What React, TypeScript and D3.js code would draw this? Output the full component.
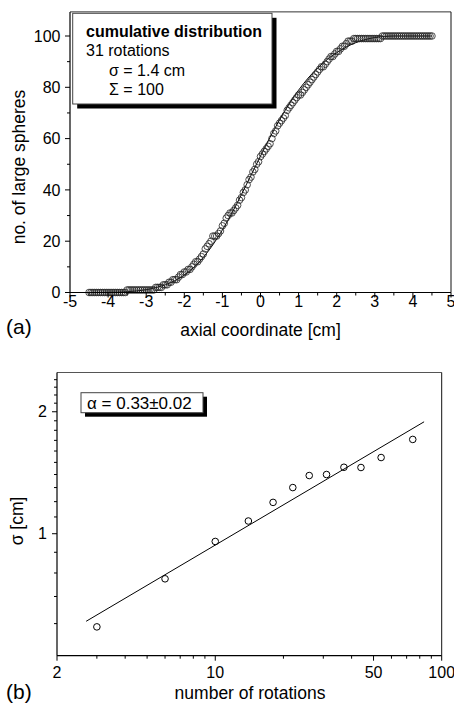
import React, { useEffect, useRef } from 'react';
import * as d3 from 'd3';

// ---------- Panel (a): cumulative distribution ----------
const cumX: number[] = [
  -4.5, -4.45, -4.4, -4.35, -4.3, -4.25, -4.2, -4.15, -4.1, -4.05,
  -4.0, -3.95, -3.9, -3.85, -3.8, -3.75, -3.7, -3.65, -3.6, -3.55,
  -3.5, -3.45, -3.4, -3.35, -3.3, -3.25, -3.2, -3.15, -3.1, -3.05,
  -3.0, -2.95, -2.9, -2.85, -2.8, -2.75, -2.7, -2.65, -2.6, -2.55,
  -2.5, -2.45, -2.4, -2.35, -2.3, -2.25, -2.2, -2.15, -2.1, -2.05,
  -2.0, -1.95, -1.9, -1.85, -1.8, -1.75, -1.7, -1.65, -1.6, -1.55,
  -1.5, -1.45, -1.4, -1.35, -1.3, -1.25, -1.2, -1.15, -1.1, -1.05,
  -1.0, -0.95, -0.9, -0.85, -0.8, -0.75, -0.7, -0.65, -0.6, -0.55,
  -0.5, -0.45, -0.4, -0.35, -0.3, -0.25, -0.2, -0.15, -0.1, -0.05,
  0.0, 0.05, 0.1, 0.15, 0.2, 0.25, 0.3, 0.35, 0.4, 0.45,
  0.5, 0.55, 0.6, 0.65, 0.7, 0.75, 0.8, 0.85, 0.9, 0.95,
  1.0, 1.05, 1.1, 1.15, 1.2, 1.25, 1.3, 1.35, 1.4, 1.45,
  1.5, 1.55, 1.6, 1.65, 1.7, 1.75, 1.8, 1.85, 1.9, 1.95,
  2.0, 2.05, 2.1, 2.15, 2.2, 2.25, 2.3, 2.35, 2.4, 2.45,
  2.5, 2.55, 2.6, 2.65, 2.7, 2.75, 2.8, 2.85, 2.9, 2.95,
  3.0, 3.05, 3.1, 3.15, 3.2, 3.25, 3.3, 3.35, 3.4, 3.45,
  3.5, 3.55, 3.6, 3.65, 3.7, 3.75, 3.8, 3.85, 3.9, 3.95,
  4.0, 4.05, 4.1, 4.15, 4.2, 4.25, 4.3, 4.35, 4.4, 4.45,
  4.5,
];
const cumN: number[] = [
  0, 0, 0, 0, 0, 0, 0, 0, 0, 0,
  0, 0, 0, 0, 0, 0, 0, 0, 0, 0,
  1, 1, 1, 1, 1, 1, 1, 1, 1, 1,
  1, 1, 1, 1, 1, 2, 2, 2, 2, 3,
  3, 3, 4, 4, 5, 5, 5, 6, 7, 7,
  8, 8, 9, 9, 10, 11, 12, 12, 13, 14,
  15, 17, 18, 19, 20, 22, 22, 22, 23, 24,
  26, 27, 29, 30, 31, 31, 32, 33, 34, 36,
  37, 39, 40, 42, 44, 45, 47, 48, 50, 51,
  53, 54, 55, 56, 57, 58, 60, 62, 63, 65,
  66, 67, 68, 69, 71, 72, 73, 74, 75, 76,
  77, 77, 78, 79, 80, 81, 82, 83, 84, 85,
  86, 87, 88, 88, 89, 90, 91, 92, 92, 93,
  94, 94, 95, 96, 96, 97, 98, 98, 98, 99,
  99, 99, 99, 99, 99, 99, 99, 99, 99, 99,
  99, 99, 99, 99, 100, 100, 100, 100, 100, 100,
  100, 100, 100, 100, 100, 100, 100, 100, 100, 100,
  100, 100, 100, 100, 100, 100, 100, 100, 100, 100,
  100,
];
// fitted curve
const fitAX: number[] = [-4.5, -4, -3.5, -3.25, -3, -2.75, -2.5, -2.25, -2, -1.75, -1.5, -1.25, -1, -0.75, -0.5, -0.25, 0, 0.25, 0.5, 0.75, 1, 1.25, 1.5, 1.75, 2, 2.25, 2.5, 2.75, 3, 3.25, 3.5, 4, 4.5];
const fitAY: number[] = [0, 0.1, 0.3, 0.6, 1.1, 1.9, 3, 4.6, 6.8, 9.8, 13.7, 18.6, 24.4, 31, 38.2, 45.7, 53.2, 60.5, 67.3, 73.5, 78.9, 83.6, 87.5, 90.8, 93.5, 95.7, 97.4, 98.6, 99.4, 99.8, 100, 100, 100];
const xTicksA: number[] = [-5, -4, -3, -2, -1, 0, 1, 2, 3, 4, 5];
const xMinorA: number[] = [-4.5, -3.5, -2.5, -1.5, -0.5, 0.5, 1.5, 2.5, 3.5, 4.5];
const yTicksA: number[] = [0, 20, 40, 60, 80, 100];
const yMinorA: number[] = [10, 30, 50, 70, 90];
const yMaxA = 109.4;
const legendA: string[] = ['cumulative distribution', '31 rotations', 'σ = 1.4 cm', 'Σ = 100'];

// ---------- Panel (b): sigma vs rotations ----------
const rotations: number[] = [3, 6, 10, 14, 18, 22, 26, 31, 37, 44, 54, 74.5];
const sigmas: number[] = [0.589, 0.774, 0.957, 1.075, 1.195, 1.3, 1.392, 1.4, 1.459, 1.457, 1.542, 1.709];
const fitBN: number[] = [2.69, 83.6];
const fitBS: number[] = [0.608, 1.889];
const xTicksB: number[] = [2, 10, 50, 100];
const xMinorB: number[] = [3, 4, 5, 6, 7, 8, 9, 20, 30, 40, 60, 70, 80, 90];
const yTicksB: number[] = [1, 2];
const yMinorB: number[] = [0.6, 0.7, 0.8, 0.9, 1.1, 1.2, 1.3, 1.4, 1.5, 1.6, 1.7, 1.8, 1.9, 2.1, 2.2, 2.3, 2.4];
const legendB = 'α = 0.33±0.02';

const FONT = '"Liberation Sans", Arial, sans-serif';

export default function App() {
  const ref = useRef<SVGSVGElement | null>(null);

  useEffect(() => {
    const svg = d3.select(ref.current);
    svg.selectAll('*').remove();
    svg.style('font-family', FONT);

    // ===== Panel (a) =====
    const xA = d3.scaleLinear().domain([-5, 5]).range([70, 451]);
    const yA = d3.scaleLinear().domain([0, 100]).range([292.5, 36]);
    const gA = svg.append('g');

    // frame top/right
    gA.append('line').attr('x1', xA(-5)).attr('x2', xA(5)).attr('y1', yA(yMaxA)).attr('y2', yA(yMaxA)).attr('stroke', '#333').attr('stroke-width', 1);
    gA.append('line').attr('x1', xA(5)).attr('x2', xA(5)).attr('y1', yA(yMaxA)).attr('y2', yA(0)).attr('stroke', '#111').attr('stroke-width', 1);

    // legend box (a) with shadow
    const lx = 72.7, ly = 13.3, lw = 199.3, lh = 90.7;
    gA.append('rect').attr('x', lx + 4.5).attr('y', ly + 4.5).attr('width', lw).attr('height', lh).attr('fill', '#000');
    gA.append('rect').attr('x', lx).attr('y', ly).attr('width', lw).attr('height', lh).attr('fill', '#fff').attr('stroke', '#444').attr('stroke-width', 1);
    const legPos = [[86, 36.5, 'bold'], [86, 56, 'normal'], [109, 75.5, 'normal'], [109, 94.5, 'normal']];
    legendA.forEach((t, i) => {
      gA.append('text').attr('x', legPos[i][0] as number).attr('y', legPos[i][1] as number)
        .attr('font-size', 16).attr('font-weight', legPos[i][2] as string).attr('fill', '#000').text(t);
    });

    // fit curve
    const lineA = d3.line<number>().x((d, i) => xA(fitAX[i])).y((d) => yA(d)).curve(d3.curveMonotoneX);
    gA.append('path').attr('d', lineA(fitAY)).attr('fill', 'none').attr('stroke', '#000').attr('stroke-width', 1);

    // data circles
    gA.selectAll('circle.a').data(cumN).enter().append('circle')
      .attr('cx', (d, i) => xA(cumX[i])).attr('cy', (d) => yA(d)).attr('r', 3.3)
      .attr('fill', 'none').attr('stroke', '#222').attr('stroke-width', 0.8);

    // axes lines
    gA.append('line').attr('x1', xA(-5)).attr('x2', xA(5)).attr('y1', yA(0)).attr('y2', yA(0)).attr('stroke', '#000').attr('stroke-width', 1.2);
    gA.append('line').attr('x1', xA(-5)).attr('x2', xA(-5)).attr('y1', yA(0)).attr('y2', yA(yMaxA)).attr('stroke', '#000').attr('stroke-width', 1.2);
    xTicksA.forEach((t) => {
      gA.append('line').attr('x1', xA(t)).attr('x2', xA(t)).attr('y1', yA(0)).attr('y2', yA(0) + 5).attr('stroke', '#000');
      gA.append('text').attr('x', xA(t)).attr('y', 306.5).attr('text-anchor', 'middle').attr('font-size', 16).text(String(t));
    });
    xMinorA.forEach((t) => {
      gA.append('line').attr('x1', xA(t)).attr('x2', xA(t)).attr('y1', yA(0)).attr('y2', yA(0) + 3).attr('stroke', '#000');
    });
    yTicksA.forEach((t) => {
      gA.append('line').attr('x1', xA(-5) - 5).attr('x2', xA(-5)).attr('y1', yA(t)).attr('y2', yA(t)).attr('stroke', '#000');
      gA.append('text').attr('x', 60.5).attr('y', yA(t) + 5.7).attr('text-anchor', 'end').attr('font-size', 16).text(String(t));
    });
    yMinorA.forEach((t) => {
      gA.append('line').attr('x1', xA(-5) - 3).attr('x2', xA(-5)).attr('y1', yA(t)).attr('y2', yA(t)).attr('stroke', '#000');
    });
    gA.append('text').attr('x', 260.5).attr('y', 336).attr('text-anchor', 'middle').attr('font-size', 17.5).text('axial coordinate [cm]');
    gA.append('text').attr('transform', 'translate(24.5,167) rotate(-90)').attr('text-anchor', 'middle').attr('font-size', 17.5).text('no. of large spheres');
    gA.append('text').attr('x', 6).attr('y', 334).attr('font-size', 21).text('(a)');

    // ===== Panel (b) =====
    const xB = d3.scaleLog().domain([2, 100]).range([57, 441.7]);
    const yB = d3.scaleLog().domain([0.5, 2.5]).range([655.7, 372.5]);
    const gB = svg.append('g');

    gB.append('line').attr('x1', xB(2)).attr('x2', xB(100)).attr('y1', yB(2.5)).attr('y2', yB(2.5)).attr('stroke', '#555').attr('stroke-width', 1);
    gB.append('line').attr('x1', xB(100)).attr('x2', xB(100)).attr('y1', yB(2.5)).attr('y2', yB(0.5)).attr('stroke', '#111').attr('stroke-width', 1);

    // legend (b)
    const bx = 81, by = 392.7, bw = 122, bh = 20;
    gB.append('rect').attr('x', bx + 4).attr('y', by + 4).attr('width', bw).attr('height', bh).attr('fill', '#000');
    gB.append('rect').attr('x', bx).attr('y', by).attr('width', bw).attr('height', bh).attr('fill', '#fff').attr('stroke', '#444').attr('stroke-width', 1);
    gB.append('text').attr('x', bx + 6).attr('y', by + 16).attr('font-size', 17).text(legendB);

    // fit line
    const lineB = d3.line<number>().x((d, i) => xB(fitBN[i])).y((d) => yB(d));
    gB.append('path').attr('d', lineB(fitBS)).attr('fill', 'none').attr('stroke', '#000').attr('stroke-width', 1);

    gB.selectAll('circle.b').data(sigmas).enter().append('circle')
      .attr('cx', (d, i) => xB(rotations[i])).attr('cy', (d) => yB(d)).attr('r', 3.3)
      .attr('fill', 'none').attr('stroke', '#000').attr('stroke-width', 1);

    gB.append('line').attr('x1', xB(2)).attr('x2', xB(100)).attr('y1', yB(0.5)).attr('y2', yB(0.5)).attr('stroke', '#000').attr('stroke-width', 1.2);
    gB.append('line').attr('x1', xB(2)).attr('x2', xB(2)).attr('y1', yB(0.5)).attr('y2', yB(2.5)).attr('stroke', '#000').attr('stroke-width', 1.2);
    xTicksB.forEach((t) => {
      gB.append('line').attr('x1', xB(t)).attr('x2', xB(t)).attr('y1', yB(0.5)).attr('y2', yB(0.5) + 5).attr('stroke', '#000');
      gB.append('text').attr('x', xB(t)).attr('y', 677.5).attr('text-anchor', 'middle').attr('font-size', 16).text(String(t));
    });
    xMinorB.forEach((t) => {
      gB.append('line').attr('x1', xB(t)).attr('x2', xB(t)).attr('y1', yB(0.5)).attr('y2', yB(0.5) + 3).attr('stroke', '#000');
    });
    yTicksB.forEach((t) => {
      gB.append('line').attr('x1', xB(2) - 5).attr('x2', xB(2)).attr('y1', yB(t)).attr('y2', yB(t)).attr('stroke', '#000');
      gB.append('text').attr('x', 47).attr('y', yB(t) + 5.7).attr('text-anchor', 'end').attr('font-size', 16).text(String(t));
    });
    yMinorB.forEach((t) => {
      gB.append('line').attr('x1', xB(2) - 3).attr('x2', xB(2)).attr('y1', yB(t)).attr('y2', yB(t)).attr('stroke', '#000');
    });
    gB.append('text').attr('x', 250).attr('y', 698.5).attr('text-anchor', 'middle').attr('font-size', 17.5).text('number of rotations');
    gB.append('text').attr('transform', 'translate(23,521) rotate(-90)').attr('text-anchor', 'middle').attr('font-size', 17.5).text('σ [cm]');
    gB.append('text').attr('x', 6).attr('y', 698.5).attr('font-size', 21).text('(b)');
  }, []);

  return (
    <svg ref={ref} width={454} height={704} style={{ position: 'absolute', left: 0, top: 0, background: '#fff' }} />
  );
}
